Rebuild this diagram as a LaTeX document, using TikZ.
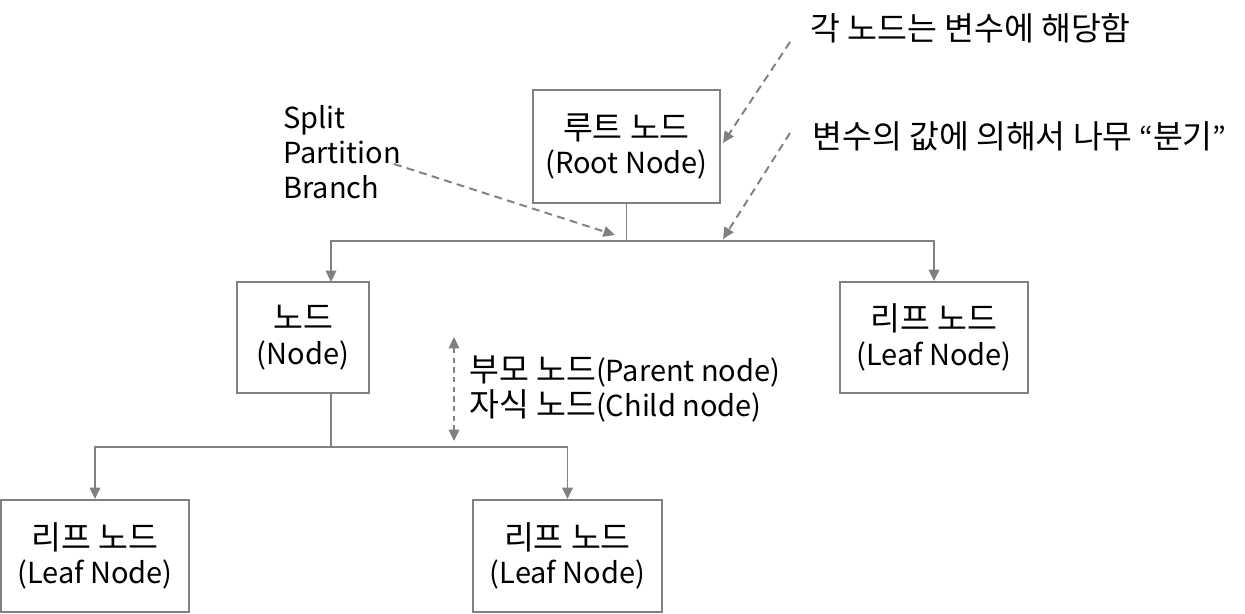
\documentclass[tikz,border=0pt]{standalone}
\usepackage{fontspec}
\setmainfont{Noto Sans CJK KR}
\newfontfamily\ko[Scale=1.12]{Noto Sans CJK KR}
\usetikzlibrary{arrows.meta,positioning}
\definecolor{lngray}{RGB}{128,128,128}
\begin{document}
\begin{tikzpicture}[x=0.02cm,y=-0.02cm,
    txt/.style={font=\fontsize{16.5}{19.8}\selectfont},
    box/.style={txt,draw=lngray,line width=1.1pt,align=center,inner sep=0pt},
    tree/.style={lngray,line width=1.1pt},
    link/.style={tree,-{Triangle[length=6.5pt,width=6pt]}},
    hint/.style={link,dash pattern=on 4.5pt off 3pt},
    note/.style={txt,align=left,inner sep=0pt,anchor=west}]
  \useasboundingbox (0,0) rectangle (1245,614);

  %% Boxes
  \node[box,minimum width=3.74cm,minimum height=2.26cm] (root) at (626.5,146.5)
        {{\ko 루트 노드}\\(Root Node)};
  \node[box,minimum width=2.64cm,minimum height=2.22cm] (node) at (303,337.5)
        {{\ko 노드}\\(Node)};
  \node[box,minimum width=3.76cm,minimum height=2.22cm] (leafR) at (934,337.5)
        {{\ko 리프 노드}\\(Leaf Node)};
  \node[box,minimum width=3.76cm,minimum height=2.24cm] (leafL) at (95,556)
        {{\ko 리프 노드}\\(Leaf Node)};
  \node[box,minimum width=3.78cm,minimum height=2.24cm] (leafM) at (567.5,556)
        {{\ko 리프 노드}\\(Leaf Node)};

  %% Branch points
  \coordinate (rsplit) at (626.5,241);
  \coordinate (ntop) at (331,282);
  \coordinate (nsplit) at (331,447);

  %% Tree connectors
  \draw[tree] (root.south) -- (rsplit);
  \draw[link] (rsplit) -| (ntop);
  \draw[link] (rsplit) -| (leafR.north);
  \draw[tree] (node.south -| ntop) -- (nsplit);
  \draw[link] (nsplit) -| (leafL.north);
  \draw[link] (nsplit) -| (leafM.north);

  %% Notes
  \node[note] (splitnote) at (283,152) {Split\\Partition\\Branch};
  \node[note] (varnote) at (810,28) {\ko 각 노드는 변수에 해당함};
  \node[note] (valnote) at (812,136) {{\ko 변수의 값에 의해서 나무} “{\ko 분기}”};
  \node[note] (pcnote) at (469,389) {{\ko 부모 노드}(Parent node)\\{\ko 자식 노드}(Child node)};

  %% Note pointers
  \coordinate (splitpt) at (615,235);
  \coordinate (varpt) at (723,143);
  \coordinate (valpt) at (723,239);
  \coordinate (pctop) at (454,337);
  \coordinate (pcbot) at (454,441);
  \draw[hint] (394,164) -- (splitpt);
  \draw[hint] (790,42) -- (varpt);
  \draw[hint] (790,133) -- (valpt);
  \draw[hint,dash pattern=on 3pt off 2.5pt,{Triangle[length=6.5pt,width=6pt]}-{Triangle[length=6.5pt,width=6pt]}]
        (pctop) -- (pcbot);
\end{tikzpicture}
\end{document}
